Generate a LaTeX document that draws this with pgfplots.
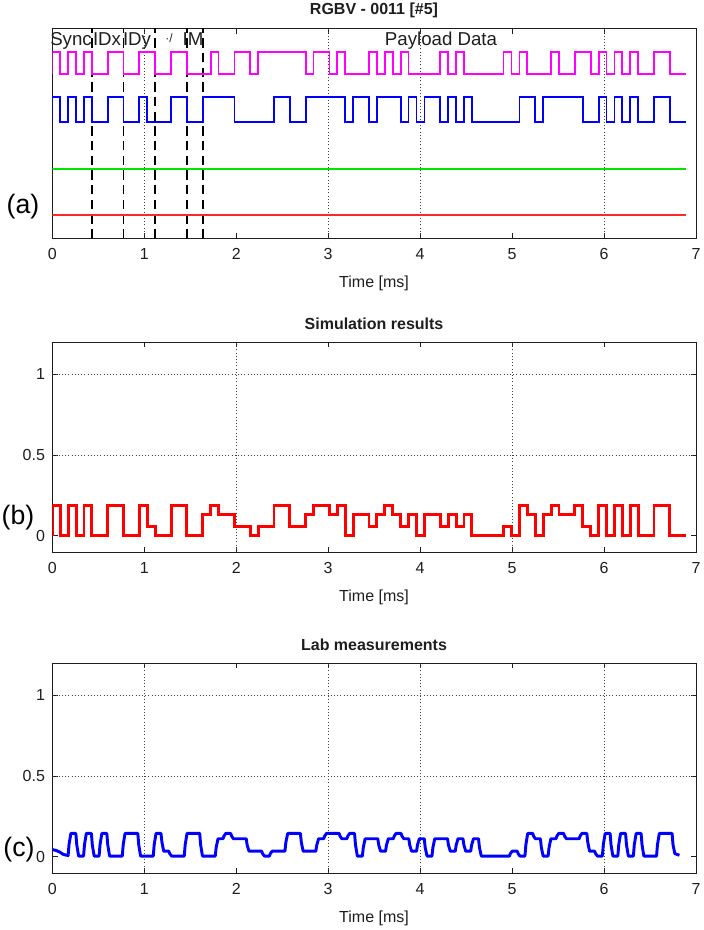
\documentclass[border=0pt]{standalone}
\usepackage{fontspec}
\setmainfont{Liberation Sans}
\usepackage{pgfplots}
\pgfplotsset{compat=1.18}
\definecolor{axgray}{RGB}{30,30,30}
\tikzset{gridl/.style={black!75, line width=0.7pt, dash pattern=on 0.8pt off 1.6pt}}
\begin{document}
\begin{tikzpicture}
\path[use as bounding box] (0pt,0pt) rectangle (527.25pt,-697.5pt);
\pgfplotsset{
  base/.style={
    scale only axis, width=482.775pt, height=157.5pt,
    xmin=0, xmax=7, xtick={0,1,2,3,4,5,6,7},
    xticklabels={0,1,2,3,4,5,6,7},
    axis line style={axgray, line width=0.6pt},
    tick style={axgray, line width=0.6pt},
    tick align=inside, major tick length=4pt,
    xtick pos=both,
    ticklabel style={font=\fontsize{12}{13}\selectfont, text=axgray},
    xticklabel style={anchor=north, inner sep=0pt, yshift=-7.5pt},
    yticklabel style={anchor=east, inner sep=0pt, xshift=-5.3pt},
  },
}
% ---------------- panel (a)
\begin{axis}[base, at={(39.225pt,-178.725pt)}, anchor=south west,
  ymin=0, ymax=210, ytick=\empty]
\foreach \g in {1,3,4,6}{\edef\tmp{\noexpand\draw[gridl] (axis cs:\g,0) -- (axis cs:\g,210);}\tmp}
\foreach \g in {0.4305,0.7749,1.1193,1.4637,1.6359}{\edef\tmp{\noexpand\draw[black, line width=1.2pt, dash pattern=on 7pt off 4pt] (axis cs:\g,0) -- (axis cs:\g,210);}\tmp}
\addplot[const plot, color={rgb,255:red,255;green,0;blue,255}, line width=1.35pt] coordinates {
(0,164.3) (0,186) (0.0861,164.3) (0.1722,186) (0.2583,164.3) (0.3444,186) (0.4305,164.3) (0.6027,186) (0.7749,164.3) (0.9471,186) (1.1193,164.3) (1.2915,186) (1.4637,164.3) (1.722,186) (1.8081,164.3) (1.9803,186) (2.1525,164.3) (2.2386,186) (2.7552,164.3) (2.8413,186) (3.0135,164.3) (3.0996,186) (3.1857,164.3) (3.444,186) (3.5301,164.3) (3.6162,186) (3.7023,164.3) (3.7884,186) (3.8745,164.3) (4.2189,186) (4.305,164.3) (4.3911,186) (4.4772,164.3) (4.9077,186) (4.9938,164.3) (5.0799,186) (5.166,164.3) (5.4243,186) (5.5104,164.3) (5.6826,186) (5.8548,164.3) (5.9409,186) (6.027,164.3) (6.1131,186) (6.1992,164.3) (6.2853,186) (6.3714,164.3) (6.5436,186) (6.7158,164.3) (6.888,164.3)};
\addplot[const plot, color={rgb,255:red,0;green,0;blue,255}, line width=1.35pt] coordinates {
(0,116) (0,141) (0.0861,116) (0.1722,141) (0.2583,116) (0.3444,141) (0.4305,116) (0.6027,141) (0.7749,116) (0.9471,141) (1.0332,116) (1.2915,141) (1.4637,116) (1.6359,141) (1.9803,116) (2.4108,141) (2.583,116) (2.7552,141) (3.1857,116) (3.2718,141) (3.444,116) (3.5301,141) (3.7884,116) (3.8745,141) (3.9606,116) (4.0467,141) (4.2189,116) (4.305,141) (4.3911,116) (4.4772,141) (4.5633,116) (5.0799,141) (5.2521,116) (5.3382,141) (5.7687,116) (5.9409,141) (6.027,116) (6.1131,141) (6.1992,116) (6.2853,141) (6.3714,116) (6.5436,141) (6.7158,116) (6.888,116)};
\addplot[color={rgb,255:red,0;green,230;blue,0}, line width=1.3pt] coordinates {(0,69.3) (6.888,69.3)};
\addplot[color={rgb,255:red,255;green,40;blue,40}, line width=1.3pt] coordinates {(0,23.3) (6.888,23.3)};
\end{axis}
% ---------------- panel (b)
\begin{axis}[base, at={(39.225pt,-414pt)}, anchor=south west,
  ymin=-0.1, ymax=1.2, ytick={0,0.5,1}, yticklabels={0,0.5,1}, ytick pos=both]
\foreach \g in {2,5}{\edef\tmp{\noexpand\draw[gridl] (axis cs:\g,-0.1) -- (axis cs:\g,1.2);}\tmp}
\foreach \g in {0.5,1}{\edef\tmp{\noexpand\draw[gridl] (axis cs:0,\g) -- (axis cs:7,\g);}\tmp}
\addplot[const plot, color={rgb,255:red,255;green,0;blue,0}, line width=2.2pt] coordinates {
(0,0) (0,0.19) (0.0861,0) (0.1722,0.19) (0.2583,0) (0.3444,0.19) (0.4305,0) (0.6027,0.19) (0.7749,0) (0.9471,0.19) (1.0332,0.06) (1.1193,0) (1.2915,0.19) (1.4637,0) (1.6359,0.13) (1.722,0.19) (1.8081,0.13) (1.9803,0.06) (2.1525,0) (2.2386,0.06) (2.4108,0.19) (2.583,0.06) (2.7552,0.13) (2.8413,0.19) (3.0135,0.13) (3.0996,0.19) (3.1857,0) (3.2718,0.13) (3.444,0.06) (3.5301,0.13) (3.6162,0.19) (3.7023,0.13) (3.7884,0.06) (3.8745,0.13) (3.9606,0) (4.0467,0.13) (4.2189,0.06) (4.305,0.13) (4.3911,0.06) (4.4772,0.13) (4.5633,0) (4.9077,0.06) (4.9938,0) (5.0799,0.19) (5.166,0.13) (5.2521,0) (5.3382,0.13) (5.4243,0.19) (5.5104,0.13) (5.6826,0.19) (5.7687,0.06) (5.8548,0) (5.9409,0.19) (6.027,0) (6.1131,0.19) (6.1992,0) (6.2853,0.19) (6.3714,0) (6.5436,0.19) (6.7158,0) (6.888,0)};
\end{axis}
% ---------------- panel (c)
\begin{axis}[base, at={(39.225pt,-654.75pt)}, anchor=south west,
  ymin=-0.1, ymax=1.2, ytick={0,0.5,1}, yticklabels={0,0.5,1}, ytick pos=both]
\foreach \g in {1,3,4,6}{\edef\tmp{\noexpand\draw[gridl] (axis cs:\g,-0.1) -- (axis cs:\g,1.2);}\tmp}
\foreach \g in {0.5,1}{\edef\tmp{\noexpand\draw[gridl] (axis cs:0,\g) -- (axis cs:7,\g);}\tmp}
\addplot[color={rgb,255:red,0;green,0;blue,255}, line width=2.2pt, line join=round] coordinates {
(0,0.045) (0.04,0.04) (0.08,0.03) (0.12,0.015) (0.172,0.008) (0.182,0.077) (0.202,0.145)
(0.256,0.145) (0.266,0.075) (0.286,0.005) (0.340,0.005) (0.350,0.075) (0.370,0.145)
(0.425,0.145) (0.435,0.075) (0.455,0.005) (0.509,0.005) (0.519,0.075) (0.539,0.145)
(0.593,0.145) (0.603,0.075) (0.623,0.005) (0.761,0.005) (0.771,0.075) (0.791,0.145)
(0.930,0.145) (0.940,0.075) (0.960,0.005) (1.098,0.005) (1.108,0.075) (1.128,0.145)
(1.182,0.145) (1.192,0.09) (1.212,0.035) (1.267,0.035) (1.277,0.02) (1.297,0.005)
(1.435,0.005) (1.445,0.075) (1.465,0.145) (1.603,0.145) (1.613,0.075) (1.633,0.005)
(1.772,0.005) (1.782,0.058) (1.802,0.112) (1.856,0.112) (1.866,0.128) (1.886,0.145)
(1.940,0.145) (1.950,0.128) (1.970,0.112) (2.109,0.112) (2.119,0.073) (2.139,0.035)
(2.277,0.035) (2.287,0.02) (2.307,0.005) (2.361,0.005) (2.371,0.02) (2.391,0.035)
(2.530,0.035) (2.540,0.09) (2.560,0.145) (2.698,0.145) (2.708,0.09) (2.728,0.035)
(2.866,0.035) (2.876,0.073) (2.896,0.112) (2.951,0.112) (2.961,0.128) (2.981,0.145)
(3.119,0.145) (3.129,0.128) (3.149,0.112) (3.203,0.112) (3.213,0.128) (3.233,0.145)
(3.287,0.145) (3.297,0.075) (3.317,0.005) (3.372,0.005) (3.382,0.058) (3.402,0.112)
(3.540,0.112) (3.550,0.073) (3.570,0.035) (3.624,0.035) (3.634,0.073) (3.654,0.112)
(3.708,0.112) (3.718,0.128) (3.738,0.145) (3.793,0.145) (3.803,0.128) (3.823,0.112)
(3.877,0.112) (3.887,0.073) (3.907,0.035) (3.961,0.035) (3.971,0.073) (3.991,0.112)
(4.045,0.112) (4.055,0.058) (4.075,0.005) (4.129,0.005) (4.139,0.058) (4.159,0.112)
(4.298,0.112) (4.308,0.073) (4.328,0.035) (4.382,0.035) (4.392,0.073) (4.412,0.112)
(4.466,0.112) (4.476,0.073) (4.496,0.035) (4.550,0.035) (4.560,0.073) (4.580,0.112)
(4.635,0.112) (4.645,0.058) (4.665,0.005) (4.971,0.005) (4.981,0.02) (5.001,0.035)
(5.056,0.035) (5.066,0.02) (5.086,0.005) (5.140,0.005) (5.150,0.075) (5.170,0.145)
(5.224,0.145) (5.234,0.128) (5.254,0.112) (5.308,0.112) (5.318,0.058) (5.338,0.005)
(5.392,0.005) (5.402,0.058) (5.422,0.112) (5.477,0.112) (5.487,0.128) (5.507,0.145)
(5.561,0.145) (5.571,0.128) (5.591,0.112) (5.729,0.112) (5.739,0.128) (5.759,0.145)
(5.813,0.145) (5.823,0.09) (5.843,0.035) (5.898,0.035) (5.908,0.02) (5.928,0.005)
(5.982,0.005) (5.992,0.075) (6.012,0.145) (6.066,0.145) (6.076,0.075) (6.096,0.005)
(6.150,0.005) (6.160,0.075) (6.180,0.145) (6.234,0.145) (6.244,0.075) (6.264,0.005)
(6.319,0.005) (6.329,0.075) (6.349,0.145) (6.403,0.145) (6.413,0.075) (6.433,0.005)
(6.571,0.005) (6.581,0.075) (6.601,0.145) (6.740,0.145) (6.750,0.075) (6.770,0.02) (6.82,0.01)};
\end{axis}
% ---------------- texts
\begin{scope}[every node/.style={inner sep=0pt, text=axgray}]
\node[anchor=base, font=\bfseries\fontsize{12}{13}\selectfont] at (280.5pt,-11.25pt) {RGBV - 0011 [\#5]};
\node[anchor=base, font=\bfseries\fontsize{12}{13}\selectfont] at (280.5pt,-246.75pt) {Simulation results};
\node[anchor=base, font=\bfseries\fontsize{12}{13}\selectfont] at (280.5pt,-487.5pt) {Lab measurements};
\node[anchor=base, font=\fontsize{12}{13}\selectfont] at (280.5pt,-215.25pt) {Time [ms]};
\node[anchor=base, font=\fontsize{12}{13}\selectfont] at (280.5pt,-450.75pt) {Time [ms]};
\node[anchor=base, font=\fontsize{12}{13}\selectfont] at (280.5pt,-691.5pt) {Time [ms]};
\node[anchor=base, font=\fontsize{14}{15}\selectfont] at (53.25pt,-34.5pt) {Sync};
\node[anchor=base, font=\fontsize{14}{15}\selectfont] at (80.25pt,-34.5pt) {IDx};
\node[anchor=base, font=\fontsize{14}{15}\selectfont] at (102.75pt,-34.5pt) {IDy};
\node[anchor=base, font=\fontsize{9}{9}\selectfont] at (126.75pt,-32pt) {\textperiodcentered/};
\node[anchor=base, font=\fontsize{14}{15}\selectfont] at (144.75pt,-34.5pt) {IM};
\node[anchor=base, font=\fontsize{14}{15}\selectfont] at (330.75pt,-34.5pt) {Payload Data};
\node[font=\fontsize{20}{21}\selectfont, text=black] at (17.25pt,-155.25pt) {(a)};
\node[font=\fontsize{20}{21}\selectfont, text=black] at (13.5pt,-388.5pt) {(b)};
\node[font=\fontsize{20}{21}\selectfont, text=black] at (14.25pt,-637.5pt) {(c)};
\end{scope}
\end{tikzpicture}
\end{document}
